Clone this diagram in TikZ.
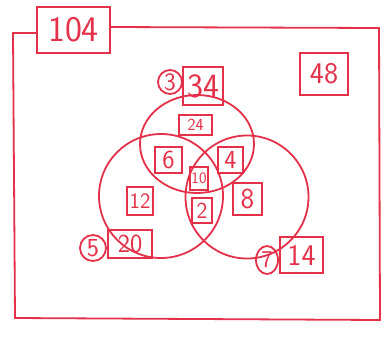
\documentclass[tikz,border=0pt]{standalone}
\usepackage{xcolor}
\usepackage{tikz}
\usetikzlibrary{shapes.geometric}

\definecolor{penred}{RGB}{228,48,72}

\begin{document}
\begin{tikzpicture}[x=1pt, y=-1pt,
  pen/.style={draw=penred, line width=1.8pt},
  numbox/.style={pen, text=penred, font=\sffamily, inner sep=0pt},
  ringnum/.style={pen, circle, text=penred, font=\sffamily, inner sep=0pt},
  vennset/.style={pen, inner sep=0pt}]

\useasboundingbox (0,0) rectangle (390,338);

% Universe: total and frame
\node[numbox, minimum width=73pt, minimum height=46pt, font=\sffamily\fontsize{36}{36}\selectfont] (total) at (73.5,30) {104};
\draw[pen] (total.west |- 0,33) -- (13,33) -- (15,318) -- (380,320) -- (379,28) -- (total.east |- 0,27);

% Three sets
\node[vennset, ellipse, minimum width=114pt, minimum height=98pt] (setA) at (197,144) {};
\node[vennset, circle, minimum size=124pt] (setB) at (161,196) {};
\node[vennset, circle, minimum size=123pt] (setC) at (247,197) {};

% Set labels and totals
\node[ringnum, minimum size=24pt, font=\sffamily\fontsize{25}{25}\selectfont] (nameA) at (170,82) {3};
\node[numbox, minimum width=40pt, minimum height=38pt, font=\sffamily\fontsize{34}{34}\selectfont] (sumA) at (203,86) {34};
\node[ringnum, minimum size=26pt, font=\sffamily\fontsize{26}{26}\selectfont] (nameB) at (93,248) {5};
\node[numbox, minimum width=44pt, minimum height=28pt, font=\sffamily\fontsize{26}{26}\selectfont] (sumB) at (130,244) {20};
\node[ringnum, ellipse, minimum width=22pt, minimum height=28pt, font=\sffamily\fontsize{24}{24}\selectfont] (nameC) at (267,260) {7};
\node[numbox, minimum width=43pt, minimum height=36pt, font=\sffamily\fontsize{30}{30}\selectfont] (sumC) at (301.5,255) {14};

% Regions
\node[numbox, minimum width=33pt, minimum height=20pt, font=\sffamily\fontsize{17}{17}\selectfont] (onlyA) at (195.5,125) {24};
\node[numbox, minimum width=27pt, minimum height=26pt, font=\sffamily\fontsize{26}{26}\selectfont] (AB) at (168.5,160) {6};
\node[numbox, minimum width=25pt, minimum height=26pt, font=\sffamily\fontsize{26}{26}\selectfont] (AC) at (230.5,160) {4};
\node[numbox, minimum width=18pt, minimum height=23pt, font=\sffamily\fontsize{16}{16}\selectfont] (ABC) at (199,178.5) {10};
\node[numbox, minimum width=20pt, minimum height=25pt, font=\sffamily\fontsize{23}{23}\selectfont] (BC) at (202,210.5) {2};
\node[numbox, minimum width=26pt, minimum height=28pt, font=\sffamily\fontsize{22}{22}\selectfont] (onlyB) at (140,201) {12};
\node[numbox, minimum width=29pt, minimum height=32pt, font=\sffamily\fontsize{29}{29}\selectfont] (onlyC) at (247.5,199) {8};

% Outside all sets
\node[numbox, minimum width=48pt, minimum height=42pt, font=\sffamily\fontsize{30}{30}\selectfont] (none) at (324,74) {48};

\end{tikzpicture}
\end{document}
